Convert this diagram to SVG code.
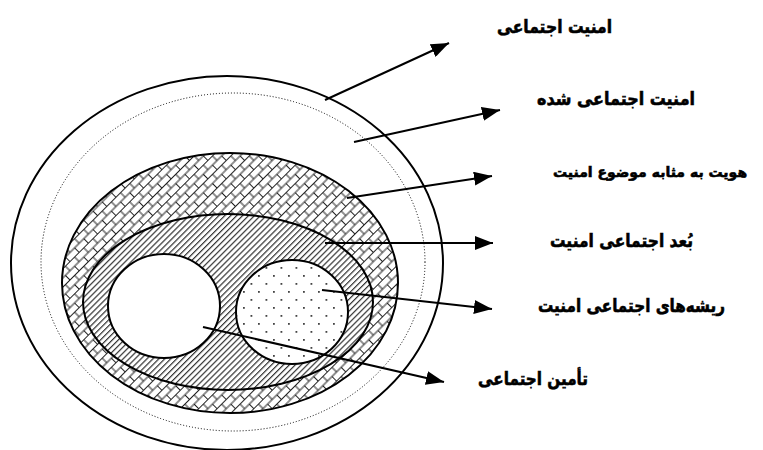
<svg xmlns="http://www.w3.org/2000/svg" width="763" height="450" viewBox="0 0 763 450">
<defs>
<pattern id="brick" patternUnits="userSpaceOnUse" width="13" height="13" patternTransform="rotate(-45)">
<rect width="13" height="13" fill="#fff"/>
<path d="M0 0.5H13M0 7H13M1 0.5V7M7.5 7V13.5M7.5 -6V0.5" stroke="#222" stroke-width="1" fill="none"/>
</pattern>
<pattern id="hatch" patternUnits="userSpaceOnUse" width="4.2" height="4.2" patternTransform="rotate(45)">
<rect width="4.2" height="4.2" fill="#fff"/>
<rect x="0" y="0" width="1.2" height="4.2" fill="#333"/>
</pattern>
<pattern id="dots" patternUnits="userSpaceOnUse" width="15" height="16">
<rect width="15" height="16" fill="#fff"/>
<rect x="3" y="3" width="1.8" height="1.8" fill="#444"/>
<rect x="10.5" y="11" width="1.8" height="1.8" fill="#444"/>
</pattern>
<marker id="ah" markerUnits="userSpaceOnUse" markerWidth="20" markerHeight="14" refX="18" refY="7" orient="auto">
<path d="M0 0L18 7L0 14Z" fill="#000"/>
</marker>
</defs>
<style>
.e{stroke:#000;stroke-width:2;}
.t{font-family:"DejaVu Sans",sans-serif;font-weight:bold;font-size:18px;text-anchor:middle;fill:#000;stroke:#000;stroke-width:0.6;}
.c{stroke:#000;stroke-width:2;fill:none;marker-end:url(#ah);}
</style>
<rect width="763" height="450" fill="#fff"/>
<g id="outer"><ellipse class="e" cx="227" cy="263" rx="216" ry="187" fill="#fff"/></g>
<g id="dotted"><ellipse cx="233" cy="262" rx="192" ry="169" fill="none" stroke="#000" stroke-width="1" stroke-dasharray="1 2"/></g>
<g id="identity"><ellipse class="e" cx="230" cy="283" rx="168" ry="130" fill="url(#brick)"/></g>
<g id="dimension"><ellipse class="e" cx="228" cy="302" rx="145" ry="88" fill="url(#hatch)"/></g>
<g id="welfare"><ellipse class="e" cx="164" cy="306" rx="56" ry="52" fill="#fff"/></g>
<g id="roots"><ellipse class="e" cx="292" cy="312" rx="56" ry="52" fill="url(#dots)"/></g>
<g id="connectors">
<line class="c" x1="325" y1="100" x2="449" y2="43"/>
<line class="c" x1="354" y1="142" x2="500" y2="110"/>
<line class="c" x1="347" y1="198" x2="492" y2="176"/>
<line class="c" x1="325" y1="243" x2="493" y2="243"/>
<line class="c" x1="322" y1="290" x2="492" y2="309"/>
<line class="c" x1="203" y1="327" x2="444" y2="382"/>
</g>
<g id="labels">
<text class="t" x="554.5" y="33" textLength="115" lengthAdjust="spacingAndGlyphs">امنیت اجتماعی</text>
<text class="t" x="616" y="105" textLength="158" lengthAdjust="spacingAndGlyphs">امنیت اجتماعی شده</text>
<text class="t" x="650" y="177" style="font-size:14px">هویت به مثابه موضوع امنیت</text>
<text class="t" x="621.5" y="247" textLength="143" lengthAdjust="spacingAndGlyphs">بُعد اجتماعی امنیت</text>
<text class="t" x="631.5" y="312" textLength="187" lengthAdjust="spacingAndGlyphs">ریشه‌های اجتماعی امنیت</text>
<text class="t" x="533" y="385" textLength="110" lengthAdjust="spacingAndGlyphs">تأمین اجتماعی</text>
</g>
</svg>
